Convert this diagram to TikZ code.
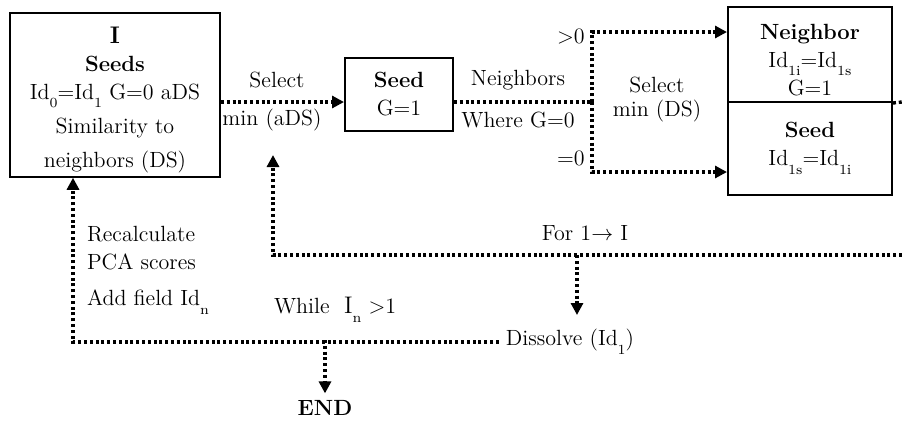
\documentclass[tikz,border=0pt]{standalone}
\usepackage{tikz}
\usetikzlibrary{arrows.meta,positioning,calc}
\newcommand{\lowsub}[1]{\raisebox{-0.9ex}{\scriptsize #1}}

\begin{document}
\begin{tikzpicture}[x=0.5pt,y=-0.5pt,
		font=\fontsize{11}{14}\selectfont,
		box/.style={draw,line width=1pt,align=center,inner sep=2pt},
		flow/.style={line width=1.7pt,dash pattern=on 1.5pt off 1.4pt},
		>={Triangle[length=6pt,width=6pt]}]
		
		\useasboundingbox (0,0) rectangle (902,425);
		
		\node[box,minimum width=105pt,minimum height=80pt] (seeds)
		at (115,95)
		{\rule{0pt}{13pt}\textbf{\large I}\\ \textbf{Seeds}\\ Id\lowsub{0}=Id\lowsub{1} G=0 aDS\\[3pt] Similarity to\\[3pt] neighbors (DS)};
		
		\node[box,minimum width=54pt,minimum height=36.5pt] (seed)
		at (399,94.5)
		{\textbf{Seed}\\ G=1};
		
		\node[box,minimum width=82pt,minimum height=47.5pt] (nbr)
		at (810,54.5)
		{\rule{0pt}{13pt}\textbf{Neighbor}\\ Id\lowsub{1i}=Id\lowsub{1s}\\ G=1};
		
		\node[box,minimum width=82pt,minimum height=46.5pt] (seedb)
		at (810,148.5)
		{\textbf{Seed}\\ Id\lowsub{1s}=Id\lowsub{1i}};
		
		\node (dissolve) at (570,342) {Dissolve (Id\lowsub{1})};
		
		\node (finish) at (325,408) {\textbf{END}};
		
		\node (select) at (277,80) {Select};
		\node (minads) at (272,120) {min (aDS)};
		\node (nbrs) at (518,80) {Neighbors};
		\node (where) at (518,120) {Where G=0};
		\node (gt) at (571,36) {>0};
		\node (eq) at (571,158) {=0};
		\node[align=center] (minds) at (657,100) {Select\\[-2pt] min (DS)};
		\node (forloop) at (585,233) {For 1$\rightarrow$ I};
		\node[anchor=west,align=left] (recalc) at (80,248) {Recalculate\\ PCA scores};
		\node[anchor=west] (addfield) at (80,302) {Add field Id\lowsub{n}};
		\node[anchor=west] (while) at (267,310) {While \ {\large I}\lowsub{n} >1};
		
		\coordinate (mainrow) at (0,102);
		\coordinate (gtrow) at (0,32);
		\coordinate (eqrow) at (0,172);
		\coordinate (fork) at (592,102);
		\coordinate (loopout) at (902,102);
		\coordinate (loopback) at (902,255);
		\coordinate (backtip) at (273,155);
		\coordinate (forsplit) at (577,255);
		\coordinate (dissolvetip) at (577,315);
		\coordinate (endsplit) at (325,340);
		\coordinate (leftcol) at (73,0);
		
		\draw[flow,->] (seeds.east |- mainrow)--(seed.west |- mainrow);
		\draw[flow] (seed.east |- mainrow)--(fork);
		\draw[flow,->] (fork) |- (nbr.west |- gtrow);
		\draw[flow,->] (fork) |- (seedb.west |- eqrow);
		\draw[flow] (nbr.south east)--(loopout);
		\draw[flow,->] (loopback) -| (backtip);
		\draw[flow,->] (forsplit)--(dissolvetip);
		\draw[flow,->] (dissolve.west) -| (seeds.south -| leftcol);
		\draw[flow,->] (endsplit)--(finish.north);
		
	\end{tikzpicture}
\end{document}
